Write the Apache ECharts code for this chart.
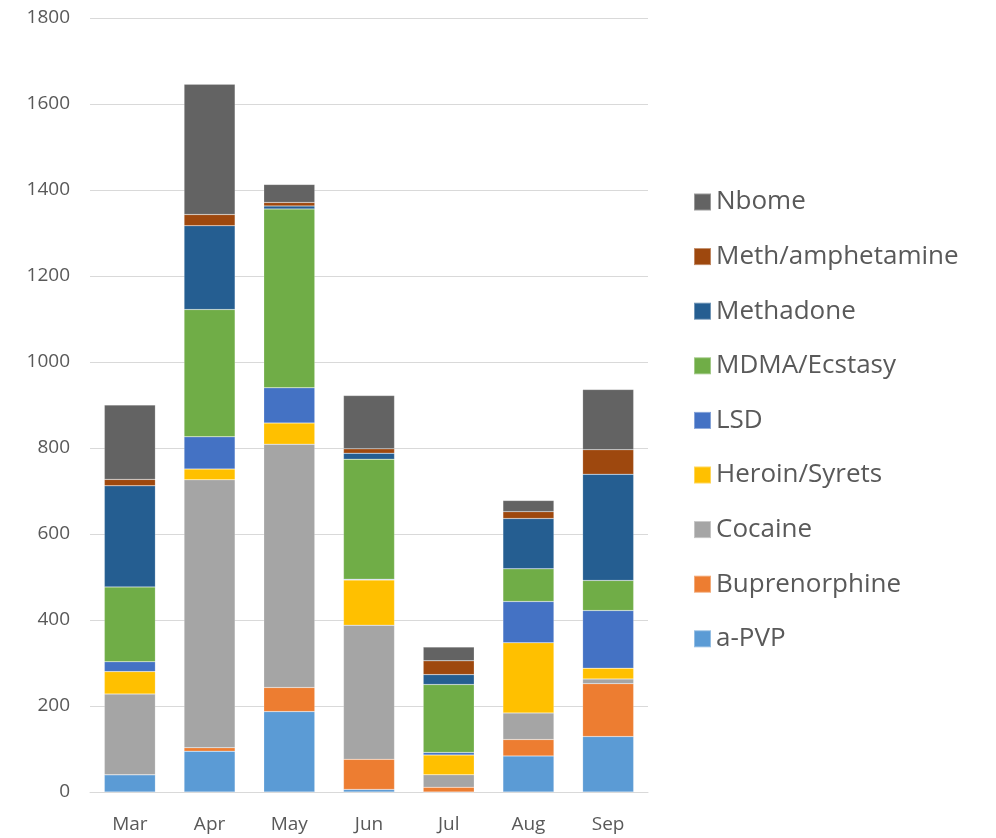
<!DOCTYPE html>
<html>
<head>
<meta charset="utf-8">
<script src="https://cdn.jsdelivr.net/npm/echarts@6/dist/echarts.min.js"></script>
<style>
  html, body { margin: 0; padding: 0; background: #fff; }
  #chart { width: 996px; height: 838px; }
</style>
</head>
<body>
<div id="chart"></div>
<script>
// Monthly counts per substance, stacked bottom to top
const months = ['Mar', 'Apr', 'May', 'Jun', 'Jul', 'Aug', 'Sep'];

const aPVP          = [40, 95, 187, 6, 0, 84, 129];
const buprenorphine = [0, 8, 56, 70, 11, 38, 123];
const cocaine       = [188, 623, 566, 312, 29, 62, 11];
const heroinSyrets  = [52, 25, 49, 105, 46, 163, 25];
const lsd           = [23, 75, 82, 2, 6, 96, 134];
const mdmaEcstasy   = [174, 296, 416, 279, 158, 76, 70];
const methadone     = [235, 195, 7, 14, 23, 117, 247];
const methAmph      = [15, 26, 8, 10, 32, 16, 57];
const nbome         = [173, 303, 42, 124, 32, 26, 140];

const yTicks = [0, 200, 400, 600, 800, 1000, 1200, 1400, 1600, 1800];

const seriesDefs = [
  { name: 'a-PVP',            data: aPVP,          color: '#5B9BD5' },
  { name: 'Buprenorphine',    data: buprenorphine, color: '#ED7D31' },
  { name: 'Cocaine',          data: cocaine,       color: '#A5A5A5' },
  { name: 'Heroin/Syrets',    data: heroinSyrets,  color: '#FFC000' },
  { name: 'LSD',              data: lsd,           color: '#4472C4' },
  { name: 'MDMA/Ecstasy',     data: mdmaEcstasy,   color: '#70AD47' },
  { name: 'Methadone',        data: methadone,     color: '#255E91' },
  { name: 'Meth/amphetamine', data: methAmph,      color: '#9E480E' },
  { name: 'Nbome',            data: nbome,         color: '#636363' }
];

const FONT = '"Open Sans", Lato, sans-serif';
const chart = echarts.init(document.getElementById('chart'), null, { renderer: 'canvas' });

chart.setOption({
  animation: false,
  backgroundColor: '#ffffff',
  grid: { left: 90, right: 348, top: 18, bottom: 46, containLabel: false },
  legend: {
    orient: 'vertical',
    left: 688,
    top: 184,
    itemWidth: 17,
    itemHeight: 17,
    itemGap: 28.6,
    icon: 'rect',
    data: seriesDefs.map(s => s.name).reverse(),
    textStyle: { fontFamily: FONT, fontSize: 26, color: '#595959', lineHeight: 26, padding: [0, 0, 0, 0] }
  },
  xAxis: {
    type: 'category',
    data: months,
    axisLine: { show: true, lineStyle: { color: '#d9d9d9', width: 1 } },
    axisTick: { show: false },
    axisLabel: { fontFamily: FONT, fontSize: 19, color: '#595959', margin: 23 }
  },
  yAxis: {
    type: 'value',
    min: yTicks[0],
    max: yTicks[yTicks.length - 1],
    interval: 200,
    axisLine: { show: false },
    axisTick: { show: false },
    splitLine: { lineStyle: { color: '#d9d9d9', width: 1 } },
    axisLabel: {
      fontFamily: FONT, fontSize: 19, color: '#595959', margin: 20,
      formatter: v => String(v)
    }
  },
  series: seriesDefs.map(s => ({
    name: s.name,
    type: 'bar',
    stack: 'total',
    barWidth: '64%',
    data: s.data,
    itemStyle: { color: s.color, borderColor: 'rgba(255,255,255,0.35)', borderWidth: 0.5 }
  }))
});
</script>
</body>
</html>
